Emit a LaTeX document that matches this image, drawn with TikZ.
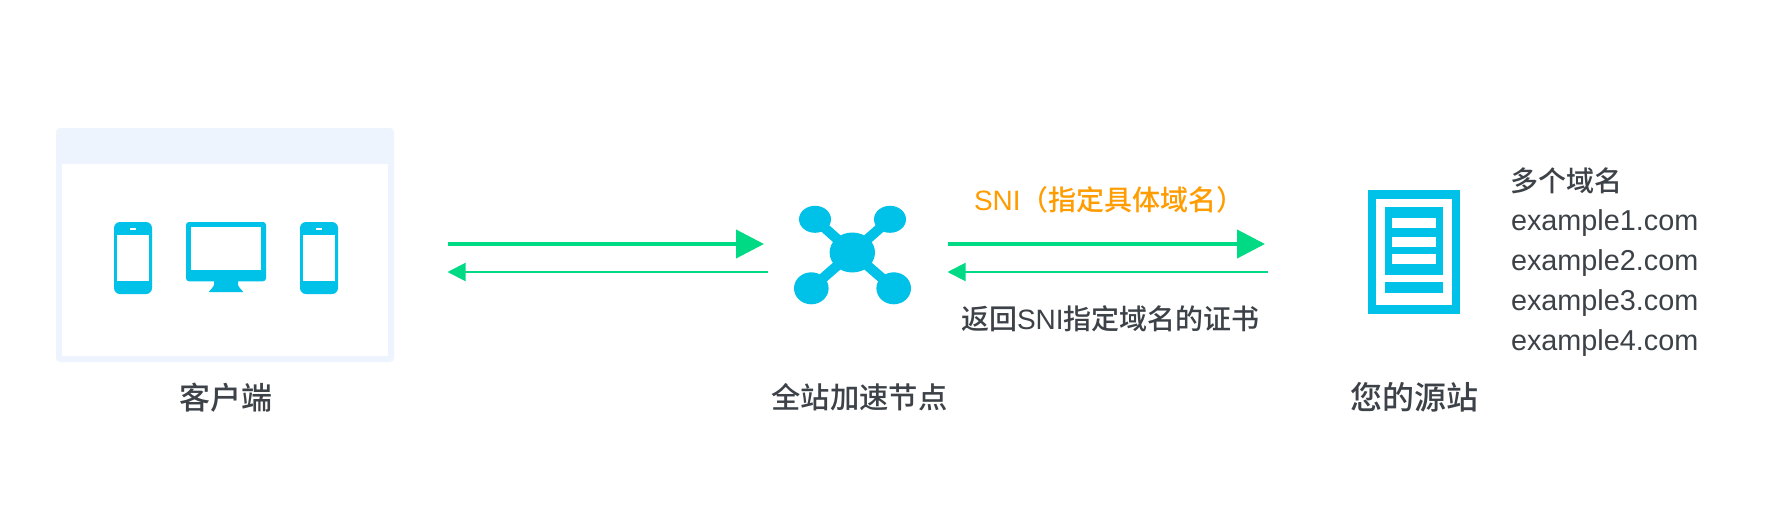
\documentclass[tikz,border=0pt]{standalone}
\usepackage{fontspec}
\setmainfont{Liberation Sans}
\newfontfamily\cjk{Noto Sans CJK SC Medium}
\usetikzlibrary{arrows.meta}
\definecolor{iconblue}{HTML}{00C1E8}
\definecolor{arrowgreen}{HTML}{00DA84}
\definecolor{panel}{HTML}{EEF4FD}
\definecolor{ink}{HTML}{3C4248}
\definecolor{sniorange}{HTML}{FF9C00}
\tikzset{
  x=1pt,y=-1pt,
  icon/.style={fill=iconblue,draw=none},
  hole/.style={fill=white,draw=none},
  bigarrow/.style={draw=arrowgreen,line width=4pt,-{Triangle[length=28pt,width=28pt,fill=arrowgreen]}},
  smallarrow/.style={draw=arrowgreen,line width=2pt,-{Triangle[length=18pt,width=18pt,fill=arrowgreen]}},
  lab/.style={inner sep=0pt,outer sep=0pt,text=ink,anchor=base},
  labl/.style={inner sep=0pt,outer sep=0pt,text=ink,anchor=base west},
}
\newcommand{\phoneicon}[1]{%
  \begin{scope}[xshift=#1pt]
    \fill[icon,rounded corners=6pt] (0,222) rectangle (38,294);
    \fill[hole] (3.3,235.3) rectangle (34.7,280.7);
    \fill[hole] (16,228) rectangle (22,230);
  \end{scope}}
\newcommand{\szA}{\fontsize{31}{31}\selectfont}
\newcommand{\szB}{\fontsize{28}{28}\selectfont}
\newcommand{\szC}{\fontsize{28.8}{28.8}\selectfont}
\begin{document}
\begin{tikzpicture}
\useasboundingbox[fill=white] (0,0) rectangle (1778,530);
% client window
\fill[panel,rounded corners=4pt] (56,128) rectangle (394,362);
\fill[hole] (62,164) rectangle (388,356);
\phoneicon{114}
\phoneicon{300}
\fill[icon,rounded corners=3pt] (186,222) rectangle (266,281.3);
\fill[hole] (191.3,227.3) rectangle (260.7,270);
\fill[icon] (214,280) -- (238,280) -- (238,285) .. controls (238.5,287) and (240,288) .. (243.3,292) -- (208.7,292) .. controls (212,288) and (213.5,287) .. (214,285) -- cycle;
% network icon
\coordinate (hub) at (852.3,252.5);
\coordinate (tl) at (815,219.3);
\coordinate (tr) at (890,219.3);
\coordinate (bl) at (811.3,288.3);
\coordinate (br) at (893.7,288.3);
\draw[iconblue,line width=10pt] (tl) -- (hub) (tr) -- (hub) (bl) -- (hub) (br) -- (hub);
\fill[icon] (hub) ellipse [x radius=22.7,y radius=20];
\fill[icon] (tl) ellipse [x radius=16,y radius=13.5];
\fill[icon] (tr) ellipse [x radius=16,y radius=13.5];
\fill[icon] (bl) ellipse [x radius=17.3,y radius=16];
\fill[icon] (br) ellipse [x radius=17.3,y radius=16];
% server icon
\fill[icon] (1368,190) rectangle (1460,314);
\fill[hole] (1376,199) rectangle (1451.7,305);
\fill[icon] (1384.7,207.3) rectangle (1443.3,275);
\fill[hole] (1392,218) rectangle (1436,228);
\fill[hole] (1392,237) rectangle (1436,247);
\fill[hole] (1392,254) rectangle (1436,264);
\fill[icon] (1384.7,282) rectangle (1443.3,293.3);
% connectors
\coordinate (a1s) at (448,244);
\coordinate (a1e) at (764,244);
\coordinate (a2s) at (768,272);
\coordinate (a2e) at (447.5,272);
\coordinate (b1s) at (948,244);
\coordinate (b1e) at (1265,244);
\coordinate (b2s) at (1268,272);
\coordinate (b2e) at (947.5,272);
\draw[bigarrow] (a1s) -- (a1e);
\draw[smallarrow] (a2s) -- (a2e);
\draw[bigarrow] (b1s) -- (b1e);
\draw[smallarrow] (b2s) -- (b2e);
% labels
\node[lab] (client) at (226,409) {\szA\cjk 客户端};
\node[lab] (accel) at (859.5,408) {\fontsize{29.3}{29.3}\selectfont\cjk 全站加速节点};
\node[lab] (origin) at (1414,409) {\fontsize{32}{32}\selectfont\cjk 您的源站};
\node[labl,text=sniorange] (sni) at (974,210) {\szB SNI{\cjk （指定具体域名）}};
\node[labl] (ret) at (961,329) {\szB{\cjk 返回}SNI{\cjk 指定域名的证书}};
\node[labl] (hdr) at (1510.5,191) {\szB\cjk 多个域名};
\node[labl] (e1) at (1511,230) {\szC example1.com};
\node[labl] (e2) at (1511,270) {\szC example2.com};
\node[labl] (e3) at (1511,310) {\szC example3.com};
\node[labl] (e4) at (1511,350) {\szC example4.com};
\end{tikzpicture}
\end{document}
